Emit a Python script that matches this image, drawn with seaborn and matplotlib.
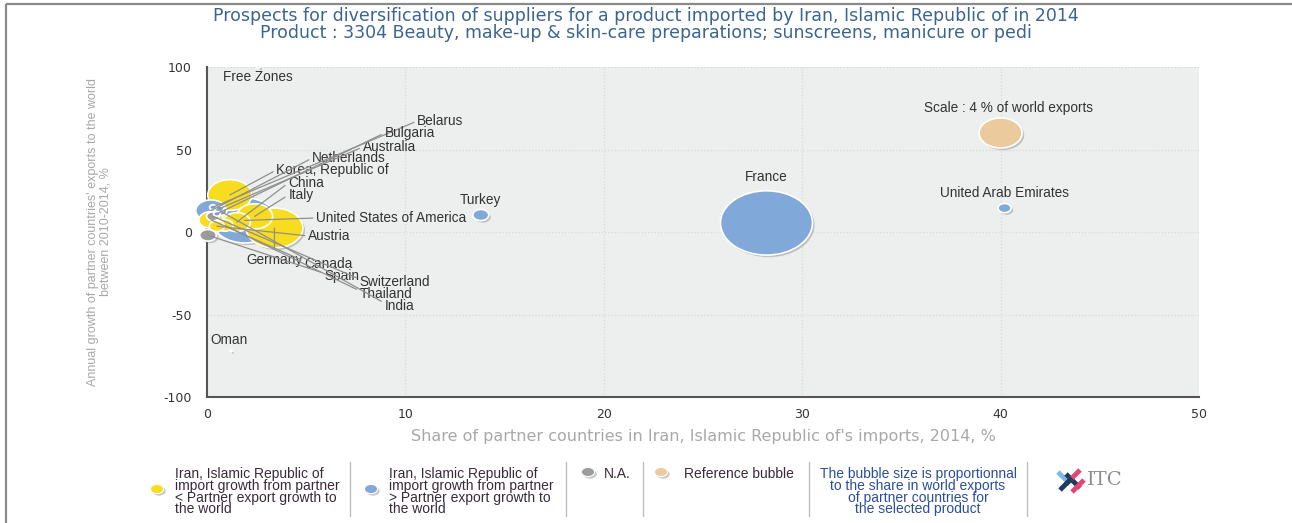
import matplotlib
matplotlib.use("Agg")
import matplotlib.pyplot as plt
import matplotlib.patheffects as pe
from matplotlib.path import Path
from matplotlib.transforms import Affine2D
from matplotlib.markers import MarkerStyle
from matplotlib.patches import Rectangle
import numpy as np
import pandas as pd
import seaborn as sns

# ---- data ----
countries = ["France", "United States of America", "Germany", "Korea, Republic of",
             "Italy", "Netherlands", "China", "Canada", "Spain", "Thailand",
             "Turkey", "Austria", "United Arab Emirates", "Switzerland", "India",
             "Australia", "Belarus", "Bulgaria", "Free Zones", "Oman"]
iran_share = [28.2, 1.9, 3.4, 1.15, 2.4, 0.2, 1.5, 0.2, 0.05, 0.9,
              13.8, 0.5, 40.2, 0.3, 0.7, 0.6, 0.3, 0.5, 2.6, 1.2]
export_growth = [5.5, 7.0, 2.4, 22.4, 9.5, 13.0, 6.0, 7.3, -2.0, 4.0,
                 10.3, 3.5, 14.5, 9.5, 12.5, 14.0, 15.0, 11.0, 100.0, -72.0]
world_share = [18.3, 9.0, 7.0, 4.2, 2.8, 2.0, 1.6, 1.25, 0.6, 0.6,
               0.55, 0.5, 0.37, 0.35, 0.3, 0.2, 0.1, 0.1, 0.02, 0.01]
group = ["higher", "higher", "lower", "lower", "lower", "higher", "lower", "lower", "na", "lower",
         "higher", "lower", "higher", "na", "na", "higher", "higher", "higher", "na", "na"]

reference_x = [40.0]
reference_y = [60.0]
reference_share = [4.0]

# label anchor positions (data coords): x, y, ha, relpos for the leader line
label_pos = {
    "France": (28.2, 33.3, "center", None),
    "United Arab Emirates": (40.2, 23.6, "center", None),
    "Turkey": (13.8, 19.4, "center", None),
    "Free Zones": (2.55, 94.0, "center", None),
    "Oman": (1.1, -65.5, "center", None),
    "Belarus": (10.6, 67.3, "left", (0, 0.5)),
    "Bulgaria": (8.95, 60.0, "left", (0, 0.5)),
    "Australia": (7.85, 51.5, "left", (0, 0.5)),
    "Netherlands": (5.3, 44.8, "left", (0, 0.5)),
    "Korea, Republic of": (3.5, 37.6, "left", (0, 0.5)),
    "China": (4.1, 29.7, "left", (0, 0.5)),
    "Italy": (4.1, 22.4, "left", (0, 0.5)),
    "United States of America": (5.5, 8.5, "left", (0, 0.5)),
    "Austria": (5.1, -2.4, "left", (0, 0.5)),
    "Germany": (3.4, -17.0, "center", (0.5, 1)),
    "Canada": (4.9, -19.4, "left", (0, 0.7)),
    "Spain": (5.9, -26.7, "left", (0, 0.7)),
    "Switzerland": (7.7, -30.3, "left", (0, 0.7)),
    "Thailand": (7.7, -37.4, "left", (0, 0.7)),
    "India": (8.95, -44.8, "left", (0, 0.7)),
}

palette = {"lower": "#F8DC1E", "higher": "#80A8D8", "na": "#9C9C9C", "ref": "#EBCB9E"}

df = pd.DataFrame({"country": countries, "x": iran_share, "y": export_growth,
                   "share": world_share, "group": group})
ref = pd.DataFrame({"x": reference_x, "y": reference_y, "share": reference_share, "group": ["ref"]})

# ---- style ----
sns.set_style("white")
plt.rcParams["font.family"] = ["DejaVu Sans"]
plt.rcParams["axes.unicode_minus"] = False

W, H = 1292, 523
fig = plt.figure(figsize=(W / 100, H / 100), dpi=100)
ax = fig.add_axes([207 / W, 1 - 397 / H, (1199 - 207) / W, (397 - 67) / H])
ax.set_facecolor("#EDEEEE")

# horizontally stretched bubble marker like the reference
ell = Affine2D().scale(1.43, 1.0).transform_path(Path.unit_circle())
bubble = MarkerStyle(ell)
shadow = [pe.SimplePatchShadow(offset=(1.5, -1.5), shadow_rgbFace="#888888", alpha=0.45), pe.Normal()]

per_pct = 239.6  # marker area (pt^2) per % of world exports
common = dict(x="x", y="y", hue="group", size="share", palette=palette,
              sizes=(0, per_pct * 20), size_norm=(0, 20), marker=bubble,
              edgecolor="white", linewidth=1.2, legend=False, ax=ax, zorder=3)
sns.scatterplot(data=df, **common)
sns.scatterplot(data=ref, **common)
for coll in ax.collections:
    coll.set_path_effects(shadow)
    coll.set_clip_on(False)

# labels and leader lines
lab = dict(fontsize=9.8, color="#333333", family="Liberation Sans")
for c, xx, yy in zip(countries, iran_share, export_growth):
    lx, ly, ha, rel = label_pos[c]
    if rel is None:
        ax.text(lx, ly, c, ha=ha, va="center", zorder=5, **lab)
    else:
        ax.annotate(c, xy=(xx, yy), xytext=(lx, ly), ha=ha, va="center",
                    arrowprops=dict(arrowstyle="-", color="#8f8f8f", lw=0.9,
                                    relpos=rel, shrinkA=0, shrinkB=0),
                    zorder=5, **lab)
ax.text(40.4, 75.2, "Scale : 4 % of world exports", ha="center", va="center", **lab)

ax.set_xlim(0, 50)
ax.set_ylim(-100, 100)
ax.set_xticks(range(0, 51, 10))
ax.set_yticks([-100, -50, 0, 50, 100])
ax.grid(True, color="#d9d9d9", linestyle=":", lw=0.9)
ax.set_axisbelow(True)
for s in ["top", "right"]:
    ax.spines[s].set_visible(False)
for s in ["left", "bottom"]:
    ax.spines[s].set_color("#555555")
    ax.spines[s].set_linewidth(1.5)
ax.tick_params(axis="y", length=9, width=1.2, color="#555555", labelsize=9, labelcolor="#333333", pad=2)
ax.tick_params(axis="x", length=5, width=1.2, color="#555555", labelsize=9, labelcolor="#333333", pad=3)
ax.set_xlabel("Share of partner countries in Iran, Islamic Republic of's imports, 2014, %",
              fontsize=11.5, color="#a8a8a8", labelpad=6)
ax.set_ylabel("Annual growth of partner countries' exports to the world\nbetween 2010-2014, %",
              fontsize=9, color="#a8a8a8", labelpad=37, linespacing=1.1,
              family=["Liberation Sans Narrow", "Liberation Sans", "DejaVu Sans"])

tt = dict(ha="center", va="center", fontsize=12.5, color="#3A6592")
fig.text(0.5, 1 - 16 / H, "Prospects for diversification of suppliers for a product imported by Iran, Islamic Republic of in 2014", **tt)
fig.text(0.5, 1 - 33 / H, "Product : 3304 Beauty, make-up & skin-care preparations; sunscreens, manicure or pedi", **tt)

# ---- overlay in pixel coordinates: frame + bottom legend ----
ov = fig.add_axes([0, 0, 1, 1], zorder=-1)
ov.set_xlim(0, W)
ov.set_ylim(H, 0)
ov.axis("off")
ov.patch.set_alpha(0)
ov.add_patch(Rectangle((6, 4), W + 50, H + 50, fill=False, edgecolor="#8a8a8a", lw=1.6))

leg = fig.add_axes([0, 0, 1, 1], zorder=5)
leg.axis("off")
leg.patch.set_alpha(0)

legend_dots = pd.DataFrame({"x": [157, 371, 588, 661], "y": [489, 489, 472, 472],
                            "group": ["lower", "higher", "na", "ref"]})
sns.scatterplot(data=legend_dots, x="x", y="y", hue="group", palette=palette, s=90,
                marker=bubble, edgecolor="white", linewidth=0.8, legend=False, ax=leg)
leg.collections[-1].set_path_effects(shadow)
leg.set_xlim(0, W)
leg.set_ylim(H, 0)

for sx in [350, 566, 643, 809, 1027]:
    leg.plot([sx, sx], [462, 516], color="#bdbdbd", lw=1)

lt = dict(fontsize=10, color="#3a2a3a", family="Liberation Sans", va="top", linespacing=0.8)
leg.text(175, 467, "Iran, Islamic Republic of\nimport growth from partner\n< Partner export growth to\nthe world", **lt)
leg.text(389, 467, "Iran, Islamic Republic of\nimport growth from partner\n> Partner export growth to\nthe world", **lt)
leg.text(604, 467, "N.A.", **lt)
leg.text(684, 467, "Reference bubble", **lt)
leg.text(918, 467, "The bubble size is proportionnal\nto the share in world exports\nof partner countries for\nthe selected product",
         ha="center", fontsize=10, color="#2B4E9C", family="Liberation Sans", va="top", linespacing=0.8)

# ITC logo
leg.plot([1058, 1070], [472, 484], color="#7FB9E2", lw=3.5, solid_capstyle="butt")
leg.plot([1066, 1080], [474, 488], color="#1F3A5F", lw=3.5, solid_capstyle="butt")
leg.plot([1080, 1068], [470, 482], color="#E3466E", lw=3.5, solid_capstyle="butt")
leg.plot([1072, 1060], [478, 490], color="#1F3A5F", lw=3.5, solid_capstyle="butt")
leg.plot([1084, 1072], [480, 492], color="#E3466E", lw=3.5, solid_capstyle="butt")
leg.text(1087, 480, "ITC", fontsize=14, color="#8A8A98", family="DejaVu Serif", va="center")

fig.savefig("out.png", dpi=100)
